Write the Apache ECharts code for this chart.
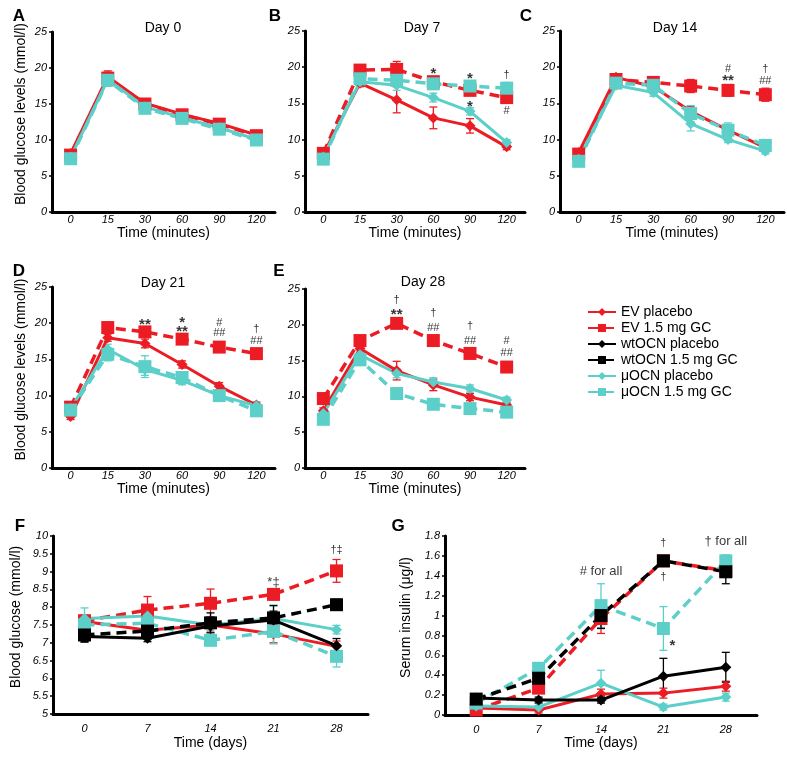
<!DOCTYPE html>
<html>
<head>
<meta charset="utf-8">
<script src="https://cdn.jsdelivr.net/npm/echarts@6/dist/echarts.min.js"></script>
<style>
html, body { margin: 0; padding: 0; background: #fff; }
#main { width: 787px; height: 759px; }
</style>
</head>
<body>
<div id="main"></div>
<script>
// x categories
var minutes = ['0', '15', '30', '60', '90', '120']
var days = ['0', '7', '14', '21', '28']
var legendNames = ['EV placebo', 'EV 1.5 mg GC', 'wtOCN placebo', 'wtOCN 1.5 mg GC', 'μOCN placebo', 'μOCN 1.5 mg GC']

// A - Day 0 (mmol/l)
var day0EvPlacebo = [8.1, 18.8, 15.1, 13.6, 12.3, 10.7]
var day0EvGC = [7.9, 18.6, 15.0, 13.5, 12.2, 10.6]
var day0MuPlacebo = [7.6, 18.4, 14.6, 13.1, 11.7, 10.1]
var day0MuGC = [7.4, 18.3, 14.4, 13.0, 11.5, 10.0]
var day0EvPlaceboErr = [0.3, 0.8, 0.5, 0.5, 0.4, 0.4]
var day0EvGCErr = [0.3, 0.8, 0.5, 0.5, 0.4, 0.4]
var day0MuPlaceboErr = [0.3, 0.9, 0.9, 0.6, 0.5, 0.4]
var day0MuGCErr = [0.3, 0.8, 0.7, 0.6, 0.5, 0.4]

// B - Day 7
var day7EvPlacebo = [8.0, 17.8, 15.5, 13.0, 11.9, 9.0]
var day7EvGC = [8.1, 19.6, 19.7, 18.0, 16.8, 15.8]
var day7MuPlacebo = [7.6, 18.0, 17.5, 15.8, 13.9, 9.6]
var day7MuGC = [7.3, 18.4, 18.2, 17.7, 17.4, 17.1]
var day7EvPlaceboErr = [0.4, 0.5, 1.8, 1.5, 1.0, 0.4]
var day7EvGCErr = [0.4, 0.6, 1.1, 0.6, 0.6, 0.6]
var day7MuPlaceboErr = [0.3, 0.5, 0.7, 0.6, 0.5, 0.4]
var day7MuGCErr = [0.4, 0.8, 0.7, 0.5, 0.5, 0.8]

// C - Day 14
var day14EvPlacebo = [8.2, 18.6, 17.3, 13.9, 11.3, 8.9]
var day14EvGC = [8.0, 18.3, 17.9, 17.4, 16.8, 16.2]
var day14MuPlacebo = [7.3, 17.5, 16.5, 12.2, 10.0, 8.4]
var day14MuGC = [7.0, 17.8, 17.5, 13.6, 11.3, 9.2]
var day14EvPlaceboErr = [0.4, 0.5, 0.5, 0.7, 0.6, 0.4]
var day14EvGCErr = [0.4, 0.5, 0.7, 0.9, 0.8, 0.9]
var day14MuPlaceboErr = [0.3, 0.4, 0.5, 1.0, 0.4, 0.4]
var day14MuGCErr = [0.3, 0.6, 0.6, 1.1, 1.0, 0.5]

// D - Day 21
var day21EvPlacebo = [7.1, 18.0, 17.2, 14.3, 11.3, 8.7]
var day21EvGC = [8.4, 19.4, 18.8, 17.8, 16.7, 15.8]
var day21MuPlacebo = [8.2, 16.4, 13.6, 12.1, 10.0, 8.6]
var day21MuGC = [8.0, 15.7, 14.0, 12.5, 10.0, 7.9]
var day21EvPlaceboErr = [0.4, 0.5, 0.6, 0.5, 0.5, 0.4]
var day21EvGCErr = [0.4, 0.7, 0.6, 0.5, 0.5, 0.5]
var day21MuPlaceboErr = [0.4, 0.7, 0.8, 0.6, 0.4, 0.5]
var day21MuGCErr = [0.4, 0.9, 1.5, 0.7, 0.5, 0.5]

// E - Day 28
var day28EvPlacebo = [8.0, 16.7, 13.6, 11.6, 9.9, 8.8]
var day28EvGC = [9.7, 17.8, 20.2, 17.8, 16.0, 14.1]
var day28MuPlacebo = [7.6, 15.8, 13.2, 12.0, 11.1, 9.5]
var day28MuGC = [6.8, 15.1, 10.4, 8.9, 8.3, 7.8]
var day28EvPlaceboErr = [0.4, 0.7, 1.3, 0.8, 0.5, 0.4]
var day28EvGCErr = [0.6, 0.7, 0.6, 0.6, 0.6, 0.6]
var day28MuPlaceboErr = [0.4, 0.7, 0.6, 0.6, 0.5, 0.4]
var day28MuGCErr = [0.4, 0.7, 0.6, 0.4, 0.4, 0.4]

// F - blood glucose over days (mmol/l)
var glucEvPlacebo = [7.6, 7.35, 7.5, 7.25, 6.9]
var glucEvGC = [7.62, 7.92, 8.11, 8.36, 9.02]
var glucWtPlacebo = [7.18, 7.13, 7.47, 7.64, 6.92]
var glucWtGC = [7.22, 7.33, 7.56, 7.7, 8.07]
var glucMuPlacebo = [7.68, 7.75, 7.5, 7.68, 7.37]
var glucMuGC = [7.5, 7.55, 7.07, 7.32, 6.62]
var glucEvPlaceboErr = [0.15, 0.15, 0.2, 0.25, 0.15]
var glucEvGCErr = [0.15, 0.38, 0.4, 0.15, 0.32]
var glucWtPlaceboErr = [0.15, 0.1, 0.25, 0.25, 0.2]
var glucWtGCErr = [0.2, 0.2, 0.28, 0.35, 0.15]
var glucMuPlaceboErr = [0.3, 0.2, 0.15, 0.35, 0.12]
var glucMuGCErr = [0.2, 0.2, 0.15, 0.35, 0.3]

// G - serum insulin (ug/l)
var insEvPlacebo = [0.07, 0.05, 0.21, 0.22, 0.29]
var insEvGC = [0.05, 0.27, 0.97, 1.55, 1.45]
var insWtPlacebo = [0.17, 0.15, 0.15, 0.39, 0.48]
var insWtGC = [0.16, 0.37, 1.0, 1.55, 1.44]
var insMuPlacebo = [0.09, 0.08, 0.32, 0.08, 0.18]
var insMuGC = [0.12, 0.47, 1.1, 0.87, 1.55]
var insEvPlaceboErr = [0.03, 0.03, 0.05, 0.05, 0.05]
var insEvGCErr = [0.03, 0.05, 0.15, 0.05, 0.05]
var insWtPlaceboErr = [0.03, 0.03, 0.03, 0.18, 0.15]
var insWtGCErr = [0.03, 0.05, 0.13, 0.05, 0.12]
var insMuPlaceboErr = [0.03, 0.05, 0.13, 0.03, 0.04]
var insMuGCErr = [0.03, 0.05, 0.22, 0.22, 0.06]

// significance marks: [category index, value, text]
var marksB = [[3, 19.6, '*'], [4, 19.0, '*'], [4, 15.1, '*'], [5, 18.9, '†'], [5, 14.0, '#']]
var marksC = [[4, 19.8, '#'], [4, 18.6, '**'], [5, 19.7, '†'], [5, 18.1, '##']]
var marksD = [[2, 20.3, '**'], [3, 20.6, '*'], [3, 19.4, '**'], [4, 20.0, '#'], [4, 18.6, '##'], [5, 19.2, '†'], [5, 17.6, '##']]
var marksE = [[2, 23.5, '†'], [2, 21.9, '**'], [3, 21.7, '†'], [3, 19.5, '##'], [4, 19.9, '†'], [4, 17.8, '##'], [5, 17.8, '#'], [5, 16.0, '##']]
var marksF = [[3, 8.76, '*‡'], [4, 9.6, '†‡']]
var marksG = [[2, 1.44, '# for all'], [3, 1.73, '†'], [3, 1.39, '†'], [3, 0.74, '*'], [4, 1.75, '† for all']]

var RED = '#ec1c24'
var CYAN = '#5ccfc9'
var FONT = 'Liberation Sans'

var look = {
  'EV placebo': { color: RED, gc: false },
  'EV 1.5 mg GC': { color: RED, gc: true },
  'wtOCN placebo': { color: '#000', gc: false },
  'wtOCN 1.5 mg GC': { color: '#000', gc: true },
  'μOCN placebo': { color: CYAN, gc: false },
  'μOCN 1.5 mg GC': { color: CYAN, gc: true }
}

var grids = [
  { left: 52, top: 32, width: 223, height: 180 },
  { left: 305, top: 31, width: 220, height: 181 },
  { left: 560, top: 31, width: 224, height: 181 },
  { left: 52, top: 287, width: 223, height: 181 },
  { left: 305, top: 289, width: 220, height: 179 },
  { left: 53, top: 536, width: 315, height: 178 },
  { left: 445, top: 536, width: 312, height: 179 }
]

var xAxes = []
var yAxes = []
var series = []

function renderErr (params, api) {
  var x = api.value(0)
  var v = api.value(1)
  var e = api.value(2)
  var hi = api.coord([x, v + e])
  var lo = api.coord([x, v - e])
  var c = api.visual('color')
  var st = { stroke: c, lineWidth: 1.3 }
  return {
    type: 'group',
    children: [
      { type: 'line', shape: { x1: hi[0], y1: hi[1], x2: lo[0], y2: lo[1] }, style: st },
      { type: 'line', shape: { x1: hi[0] - 4, y1: hi[1], x2: hi[0] + 4, y2: hi[1] }, style: st },
      { type: 'line', shape: { x1: lo[0] - 4, y1: lo[1], x2: lo[0] + 4, y2: lo[1] }, style: st }
    ]
  }
}

function markLabel (idx, text) {
  // stars are drawn bigger and bolder, and sit high in the text box
  if (text === '*' && idx === 6) return { fontSize: 15, fontWeight: 'bold', offset: [9, 4] }
  if (text.indexOf('for all') >= 0) return { fontSize: 13 }
  if (text.length === 2 && text.indexOf('*') === 0 && text !== '**') return { fontSize: 13, offset: [0, 2] }
  if (text.indexOf('*') >= 0) return { fontSize: 15, fontWeight: 'bold', offset: [0, 4] }
  return {}
}

function addPanel (idx, cats, yMin, yMax, yInt, yName, yNameGap, xName, xNameGap, xMargin, lines, marks) {
  xAxes.push({
    gridIndex: idx,
    type: 'category',
    data: cats,
    boundaryGap: true,
    axisLine: { lineStyle: { color: '#000', width: 3 } },
    axisTick: { show: false },
    axisLabel: { color: '#000', fontStyle: 'italic', fontSize: 11, fontFamily: FONT, margin: xMargin },
    name: xName,
    nameLocation: 'middle',
    nameGap: xNameGap,
    nameTextStyle: { color: '#000', fontSize: 14, fontFamily: FONT }
  })
  yAxes.push({
    gridIndex: idx,
    type: 'value',
    min: yMin,
    max: yMax,
    interval: yInt,
    axisLine: { show: true, lineStyle: { color: '#000', width: 3 } },
    axisTick: { show: true, length: 3, lineStyle: { color: '#000', width: 1.5 } },
    splitLine: { show: false },
    axisLabel: { color: '#000', fontStyle: 'italic', fontSize: 11, fontFamily: FONT, margin: 5 },
    name: yName,
    nameLocation: 'middle',
    nameGap: yNameGap,
    nameTextStyle: { color: '#000', fontSize: 14, fontFamily: FONT, padding: [0, 0, 0, 16] }
  })
  lines.forEach(function (l) {
    var s = look[l[0]]
    var vals = l[1]
    var errs = l[2]
    series.push({
      type: 'custom',
      xAxisIndex: idx,
      yAxisIndex: idx,
      renderItem: renderErr,
      itemStyle: { color: s.color },
      encode: { x: 0, y: 1 },
      data: vals.map(function (v, i) { return [i, v, errs[i]] }),
      silent: true,
      z: 2
    })
    series.push({
      type: 'line',
      name: l[0],
      xAxisIndex: idx,
      yAxisIndex: idx,
      data: vals,
      symbol: s.gc ? 'rect' : 'diamond',
      symbolSize: s.gc ? 13 : 11,
      showSymbol: true,
      lineStyle: { color: s.color, width: s.gc ? 3.5 : 3, type: s.gc ? [10, 6] : 'solid' },
      itemStyle: { color: s.color },
      z: 3
    })
  })
  series.push({
    type: 'scatter',
    xAxisIndex: idx,
    yAxisIndex: idx,
    symbolSize: 1,
    itemStyle: { color: 'transparent' },
    silent: true,
    z: 5,
    data: marks.map(function (m) {
      return { value: [m[0], m[1], m[2]], label: markLabel(idx, m[2]) }
    }),
    label: {
      show: true,
      position: 'inside',
      color: '#000',
      fontSize: 11,
      fontFamily: FONT,
      formatter: function (p) { return p.value[2] }
    }
  })
}

function gt (day) {
  return [
    ['EV placebo', window[day + 'EvPlacebo'], window[day + 'EvPlaceboErr']],
    ['EV 1.5 mg GC', window[day + 'EvGC'], window[day + 'EvGCErr']],
    ['μOCN placebo', window[day + 'MuPlacebo'], window[day + 'MuPlaceboErr']],
    ['μOCN 1.5 mg GC', window[day + 'MuGC'], window[day + 'MuGCErr']]
  ]
}

var glucName = 'Blood glucose levels (mmol/l)'
addPanel(0, minutes, 0, 25, 5, glucName, 24, 'Time (minutes)', 14, 2, gt('day0'), [])
addPanel(1, minutes, 0, 25, 5, '', 0, 'Time (minutes)', 14, 2, gt('day7'), marksB)
addPanel(2, minutes, 0, 25, 5, '', 0, 'Time (minutes)', 14, 2, gt('day14'), marksC)
addPanel(3, minutes, 0, 25, 5, glucName, 24, 'Time (minutes)', 14, 2, gt('day21'), marksD)
addPanel(4, minutes, 0, 25, 5, '', 0, 'Time (minutes)', 14, 2, gt('day28'), marksE)
addPanel(5, days, 5, 10, 0.5, 'Blood glucose (mmol/l)', 30, 'Time (days)', 22, 9, [
  ['EV placebo', glucEvPlacebo, glucEvPlaceboErr],
  ['EV 1.5 mg GC', glucEvGC, glucEvGCErr],
  ['μOCN placebo', glucMuPlacebo, glucMuPlaceboErr],
  ['μOCN 1.5 mg GC', glucMuGC, glucMuGCErr],
  ['wtOCN placebo', glucWtPlacebo, glucWtPlaceboErr],
  ['wtOCN 1.5 mg GC', glucWtGC, glucWtGCErr]
], marksF)
addPanel(6, days, 0, 1.8, 0.2, 'Serum insulin (μg/l)', 32, 'Time (days)', 21, 9, [
  ['EV placebo', insEvPlacebo, insEvPlaceboErr],
  ['EV 1.5 mg GC', insEvGC, insEvGCErr],
  ['μOCN placebo', insMuPlacebo, insMuPlaceboErr],
  ['μOCN 1.5 mg GC', insMuGC, insMuGCErr],
  ['wtOCN placebo', insWtPlacebo, insWtPlaceboErr],
  ['wtOCN 1.5 mg GC', insWtGC, insWtGCErr]
], marksG)

function txt (x, y, s, size, bold) {
  return {
    type: 'text',
    x: x,
    y: y,
    style: { text: s, fontSize: size, fontWeight: bold ? 'bold' : 'normal', fontFamily: FONT, fill: '#000', align: 'center', verticalAlign: 'middle' }
  }
}

var myChart = echarts.init(document.getElementById('main'))
myChart.setOption({
  animation: false,
  grid: grids.map(function (g) { return Object.assign({ outerBoundsMode: 'none' }, g) }),
  xAxis: xAxes,
  yAxis: yAxes,
  series: series,
  legend: {
    orient: 'vertical',
    left: 587,
    top: 305,
    padding: 0,
    itemWidth: 28,
    itemHeight: 10,
    itemGap: 2,
    selectedMode: false,
    data: legendNames,
    textStyle: { color: '#000', fontSize: 14, fontFamily: FONT, lineHeight: 14 }
  },
  graphic: [
    txt(19, 16, 'A', 17, true),
    txt(275, 16, 'B', 17, true),
    txt(526, 16, 'C', 17, true),
    txt(19, 271, 'D', 17, true),
    txt(279, 271, 'E', 17, true),
    txt(20, 526, 'F', 17, true),
    txt(398, 526, 'G', 17, true),
    txt(163, 28, 'Day 0', 14),
    txt(422, 28, 'Day 7', 14),
    txt(675, 28, 'Day 14', 14),
    txt(163, 283, 'Day 21', 14),
    txt(423, 282, 'Day 28', 14)
  ]
})
</script>
</body>
</html>
